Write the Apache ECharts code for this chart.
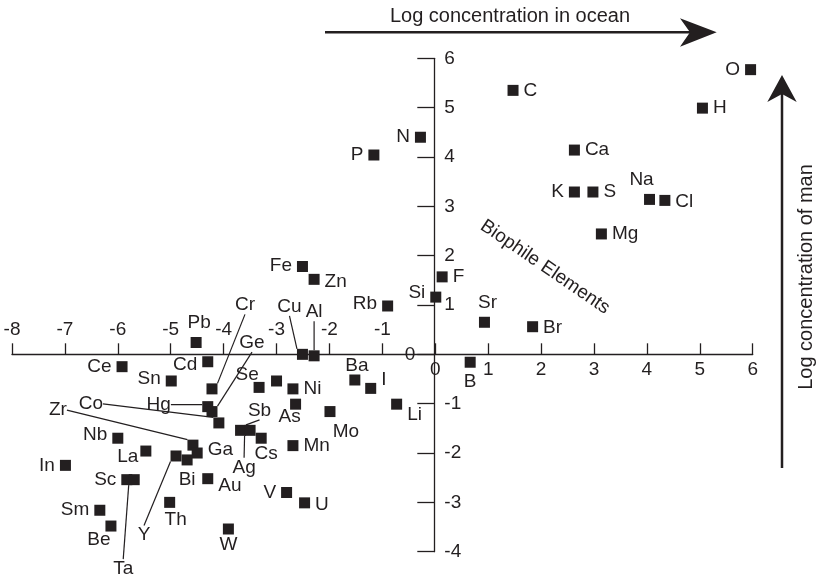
<!DOCTYPE html>
<html><head><meta charset="utf-8">
<script src="https://cdn.jsdelivr.net/npm/echarts@6/dist/echarts.min.js"></script>
<style>html,body{margin:0;padding:0;background:#fff}#c{width:820px;height:577px}</style>
</head><body><div id="c"></div>
<script>
// ---- data ----
const elements = ['O','H','C','N','P','Ca','K','S','Na','Cl','Mg','F','Si','Sr','Br','B','Fe','Zn','Rb','Cu','Al','Pb','Ce','Cd','Sn','Cr','Se','','Ni','Ba','I','Hg','Ge','Co','As','Mo','Li','Sb','Ag','Cs','Mn','Zr','Ga','Y','Bi','Nb','La','In','Sc','Ta','Sm','Be','Th','Au','W','V','U'];
const oceanLog = [5.96,5.05,1.47,-0.28,-1.16,2.63,2.63,2.98,4.05,4.34,3.14,0.13,0.01,0.93,1.84,0.66,-2.51,-2.29,-0.90,-2.51,-2.29,-4.52,-5.92,-4.30,-4.99,-4.22,-3.33,-3.00,-2.69,-1.52,-1.22,-4.30,-4.22,-4.09,-2.64,-1.99,-0.73,-3.68,-3.50,-3.29,-2.69,-4.58,-4.50,-4.90,-4.69,-6.00,-5.47,-6.99,-5.83,-5.69,-6.34,-6.13,-5.02,-4.30,-3.91,-2.81,-2.47];
const manLog = [5.77,4.99,5.35,4.40,4.04,4.14,3.29,3.29,3.14,3.12,2.44,1.57,1.16,0.65,0.56,-0.16,1.78,1.52,0.98,0.00,-0.03,0.24,-0.25,-0.15,-0.54,-0.70,-0.67,-0.54,-0.70,-0.52,-0.69,-1.06,-1.16,-1.39,-1.01,-1.16,-1.01,-1.54,-1.54,-1.70,-1.85,-1.84,-2.00,-2.06,-2.14,-1.70,-1.96,-2.25,-2.54,-2.54,-3.16,-3.48,-3.00,-2.52,-3.54,-2.80,-3.01];
const xRange = [-8, 6];
const yRange = [-4, 6];
const xTitle = 'Log concentration in ocean';
const yTitle = 'Log concentration of man';
const groupTitle = 'Biophile Elements';

// ---- layout (label placement: position, dx, dy) ----
const labelCfg = {
 O:['left',0,0], H:['right',0,0], C:['right',0,0], N:['left',0,0], P:['left',0,0], Ca:['right',0,0],
 K:['left',0,0], S:['right',0,0], Na:['top',-8,0], Cl:['right',0,1], Mg:['right',0,0], F:['right',0,0],
 Si:['left',0,-4], Sr:['top',3,0], Br:['right',0,1], B:['bottom',0,0], Fe:['left',0,-1], Zn:['right',0,2],
 Rb:['left',0,-2], Pb:['top',3,0], Ce:['left',0,0], Cd:['left',0,3], Sn:['left',0,-2], Se:['top',-12,7],
 Ni:['right',0,0], Ba:['top',2,6], I:['right',0,-9], As:['bottom',-6,-7], Mo:['bottom',16,0], Li:['right',0,11],
 Cs:['bottom',5,-4], Mn:['right',0,0], Ga:['right',0,-3], Bi:['bottom',0,0], Nb:['left',0,-3], La:['left',3,6],
 In:['left',0,0], Sc:['left',0,0], Sm:['left',0,0], Be:['bottom',-12,-6], Th:['bottom',6,-3], Au:['right',0,7],
 W:['bottom',0,-4], V:['left',0,0], U:['right',0,2]
};
const leader = { Cr:[33,-84], Ge:[40,-69], Cu:[-13,-48], Al:[0,-44], Hg:[-49,-2], Co:[-128,-19],
 Zr:[-135,-35], Y:[-32,79], Ta:[-11,89], Sb:[19,-20], Ag:[-6,37] };

const ink = '#231f20';
const font = "'Liberation Sans', Arial, sans-serif";
const G = { left: 12, right: 67.3, top: 58.3, bottom: 25.3 };
const zeroY = 354.3;   // pixel row of y = 0
const zeroX = 434.3;   // pixel column of x = 0

const data = elements.map((e, i) => {
  const item = { name: e, value: [oceanLog[i], manLog[i]] };
  if (leader[e]) {
    item.label = { show: true, position: 'inside' };
    item.labelLine = { show: true, lineStyle: { color: ink, width: 1.2, opacity: 1 } };
  } else if (labelCfg[e]) {
    item.label = { show: true, position: labelCfg[e][0] };
  } else {
    item.label = { show: false };
  }
  return item;
});

const hidden = (extra) => Object.assign({ type: 'value', show: false,
  axisLine: { show: false, onZero: false }, splitLine: { show: false } }, extra);
const lbl = (extra) => Object.assign({ color: ink, fontSize: 19, fontFamily: font }, extra);

const chart = echarts.init(document.getElementById('c'), null, { renderer: 'canvas' });
chart.setOption({
  animation: false,
  backgroundColor: '#fff',
  grid: [
    Object.assign({ containLabel: false, outerBoundsMode: 'none' }, G),
    { left: G.left, right: G.right, top: G.top, bottom: 577 - zeroY, containLabel: false, outerBoundsMode: 'none' },
    { left: zeroX, right: G.right, top: G.top, bottom: G.bottom, containLabel: false, outerBoundsMode: 'none' }
  ],
  xAxis: [
    hidden({ gridIndex: 0, min: xRange[0], max: xRange[1] }),
    { type: 'value', gridIndex: 1, position: 'bottom', min: xRange[0], max: xRange[1], interval: 1,
      axisLine: { show: true, onZero: false, lineStyle: { color: ink, width: 1.3 } },
      axisTick: { show: true, inside: true, length: 11, lineStyle: { color: ink, width: 1.3 } },
      axisLabel: lbl({ inside: true, margin: 15, formatter: v => (v < 0 ? String(v) : '') }),
      splitLine: { show: false } },
    { type: 'value', gridIndex: 1, position: 'bottom', min: xRange[0], max: xRange[1], interval: 1,
      axisLine: { show: false, onZero: false },
      axisTick: { show: false },
      axisLabel: lbl({ inside: false, margin: 6, formatter: v => (v >= 0 ? String(v) : '') }),
      splitLine: { show: false } },
    hidden({ gridIndex: 2, min: 0, max: 1 })
  ],
  yAxis: [
    hidden({ gridIndex: 0, min: yRange[0], max: yRange[1] }),
    hidden({ gridIndex: 1, min: 0, max: 1 }),
    { type: 'value', gridIndex: 2, position: 'left', min: yRange[0], max: yRange[1], interval: 1,
      axisLine: { show: true, onZero: false, lineStyle: { color: ink, width: 1.3 } },
      axisTick: { show: true, inside: false, length: 17, lineStyle: { color: ink, width: 1.3 } },
      axisLabel: lbl({ inside: true, margin: 10, formatter: v => (v === 0 ? '' : String(v)) }),
      splitLine: { show: false } },
    { type: 'value', gridIndex: 2, position: 'left', min: yRange[0], max: yRange[1], interval: 1,
      axisLine: { show: false, onZero: false },
      axisTick: { show: false },
      axisLabel: lbl({ inside: false, margin: 19, formatter: v => (v === 0 ? '0' : '') }),
      splitLine: { show: false } }
  ],
  series: [{
    type: 'scatter',
    xAxisIndex: 0, yAxisIndex: 0,
    symbol: 'rect', symbolSize: 11,
    itemStyle: { color: ink, opacity: 1 },
    label: { show: true, color: ink, fontSize: 19, fontFamily: font, distance: 5,
      formatter: p => p.name },
    labelLine: { show: false },
    labelLayout: function (p) {
      const e = elements[p.dataIndex];
      const l = leader[e];
      if (l) return { dx: l[0], dy: l[1] };
      const c = labelCfg[e];
      if (c) return { dx: c[1], dy: c[2] };
    },
    emphasis: { disabled: true },
    data: data
  }],
  graphic: [
    { type: 'line', shape: { x1: 325, y1: 32.3, x2: 700, y2: 32.3 }, style: { stroke: ink, lineWidth: 2.5 } },
    { type: 'polygon', shape: { points: [[716.7,32.3],[680,18.3],[690,32.3],[680,46.7]] }, style: { fill: ink } },
    { type: 'text', x: 510, y: 16, style: { text: xTitle, fill: ink, font: '20px ' + font, align: 'center', verticalAlign: 'middle' } },
    { type: 'line', shape: { x1: 782, y1: 468, x2: 782, y2: 92 }, style: { stroke: ink, lineWidth: 2.5 } },
    { type: 'polygon', shape: { points: [[782,75],[796.7,102],[782,94],[767.3,102]] }, style: { fill: ink } },
    { type: 'text', x: 806, y: 277, rotation: Math.PI / 2, style: { text: yTitle, fill: ink, font: '20px ' + font, align: 'center', verticalAlign: 'middle' } },
    { type: 'text', x: 545, y: 267, rotation: -0.6, style: { text: groupTitle, fill: ink, font: '19px ' + font, align: 'center', verticalAlign: 'middle' } }
  ]
});
</script>
</body></html>
